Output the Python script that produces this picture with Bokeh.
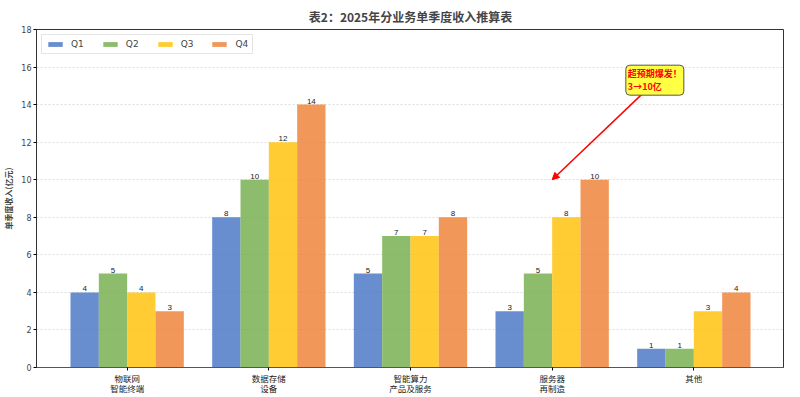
from bokeh.plotting import figure
from bokeh.models import (ColumnDataSource, Legend, LegendItem, Label, Arrow,
                          NormalHead, FixedTicker, Range1d)
from bokeh.embed import file_html
from bokeh.resources import INLINE

categories = ["物联网\n智能终端", "数据存储\n设备", "智能算力\n产品及服务", "服务器\n再制造", "其他"]
series_names = ["Q1", "Q2", "Q3", "Q4"]
q1 = [4, 8, 5, 3, 1]
q2 = [5, 10, 7, 5, 1]
q3 = [4, 12, 7, 8, 3]
q4 = [3, 14, 8, 10, 4]
series_values = [q1, q2, q3, q4]
colors = ["#4472C4", "#70AD47", "#FFC000", "#ED7D31"]
y_ticks = [0, 2, 4, 6, 8, 10, 12, 14, 16, 18]
note_text = "超预期爆发！\n3→10亿"
note_target = (3, 10)

FONT = "Noto Sans CJK SC"
bar_w = 0.2
offsets = [-0.3, -0.1, 0.1, 0.3]

p = figure(width=784, height=396, output_backend="svg", toolbar_location=None,
           x_range=Range1d(-0.64, 4.64), y_range=Range1d(0, 18),
           min_border_left=26, min_border_right=0, min_border_top=0, min_border_bottom=0)

p.title.text = "表2：2025年分业务单季度收入推算表"
p.title.align = "center"
p.title.text_font = FONT
p.title.text_font_size = "12px"
p.title.text_font_style = "bold"
p.title.text_line_height = 0.8
p.title.offset = 0
p.title.standoff = 10

items = []
xs_base = list(range(len(categories)))
for name, vals, col, off in zip(series_names, series_values, colors, offsets):
    xs = [x + off for x in xs_base]
    src = ColumnDataSource(dict(x=xs, top=vals, lab=[str(v) for v in vals]))
    r = p.vbar(x="x", top="top", width=bar_w, source=src, fill_color=col,
               fill_alpha=0.8, line_color=None)
    p.text(x="x", y="top", text="lab", source=src, text_align="center",
           text_baseline="bottom", text_font_size="8px", text_color="#222222",
           y_offset=-1)
    items.append(LegendItem(label=name, renderers=[r]))

legend = Legend(items=items, orientation="horizontal", location="top_left",
                label_text_font_size="9px", glyph_width=18, glyph_height=6,
                spacing=17, padding=4, margin=5, label_standoff=7,
                label_width=12, border_line_color="#cccccc", border_line_width=1,
                label_height=8, label_text_font="DejaVu Sans")
p.add_layout(legend, "center")

p.xaxis.ticker = FixedTicker(ticks=xs_base)
p.xaxis.major_label_overrides = {i: c for i, c in zip(xs_base, categories)}
p.xaxis.major_label_text_font = FONT
p.xaxis.major_label_text_font_size = "8.5px"
p.xaxis.major_label_text_line_height = 0.85
p.xaxis.major_label_text_color = "#222222"
p.xaxis.major_tick_out = 3
p.xaxis.major_tick_in = 0
p.xaxis.minor_tick_line_color = None
p.xaxis.axis_line_color = "#555555"
p.xaxis.major_label_standoff = 1

p.yaxis.ticker = FixedTicker(ticks=y_ticks)
p.yaxis.major_label_text_font_size = "8px"
p.yaxis.major_label_text_font = "DejaVu Sans"
p.yaxis.major_tick_out = 3
p.yaxis.major_tick_in = 0
p.yaxis.minor_tick_line_color = None
p.yaxis.axis_label = "单季度收入(亿元)"
p.yaxis.axis_label_text_font = FONT
p.yaxis.axis_label_text_font_size = "8px"
p.yaxis.axis_label_text_font_style = "bold"
p.yaxis.axis_label_standoff = 4
p.yaxis.major_label_standoff = 2
p.yaxis.axis_line_color = "#333333"

p.xgrid.grid_line_color = None
p.ygrid.grid_line_color = "#dddddd"
p.ygrid.grid_line_dash = "2 2"
p.outline_line_color = "#333333"
p.outline_line_width = 1

# annotation
arrow = Arrow(end=NormalHead(size=7, fill_color="red", line_color="red"),
              x_start=3.64, y_start=14.6, x_end=note_target[0], y_end=note_target[1],
              line_color="red", line_width=1.5)
p.add_layout(arrow)
note = Label(x=3.52, y=16.1, text=note_text, text_color="red", text_font=FONT,
             text_font_size="9px", text_font_style="bold", text_baseline="top",
             text_align="left", background_fill_color="#ffff44",
             border_line_color="#555555", border_line_width=1, padding=2,
             border_radius=4, text_line_height=1.0)
p.add_layout(note)

open("out.html", "w").write(file_html(p, INLINE))
